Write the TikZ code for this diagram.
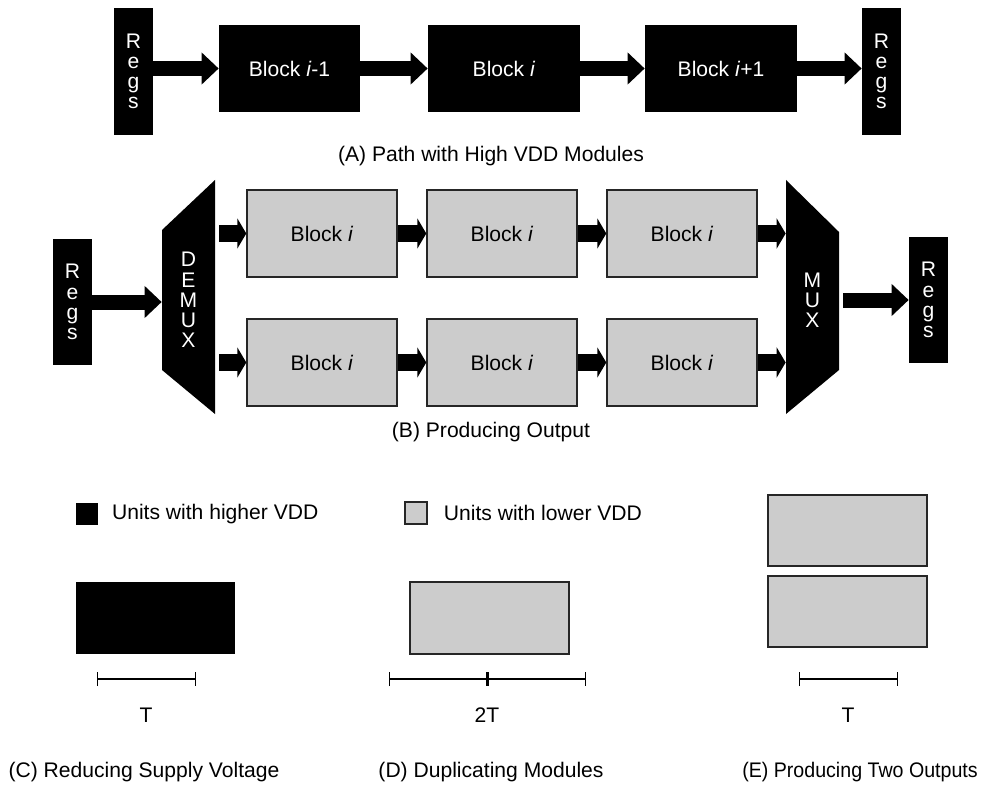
\documentclass[tikz,border=0pt]{standalone}
\usepackage{fontspec}
\setmainfont{Liberation Sans}
\usetikzlibrary{arrows.meta, positioning}

\begin{document}
\begin{tikzpicture}[x=0.2mm, y=-0.2mm,
  every node/.style={font=\fontsize{12pt}{14pt}\selectfont},
  hiblk/.style={fill=black, text=white, inner sep=0pt},
  loblk/.style={draw=black!85, line width=0.8pt, fill=black!20, inner sep=0pt},
  regs/.style={hiblk, minimum width=0.78cm, minimum height=2.54cm, align=center, font=\fontsize{12pt}{11.5pt}\selectfont},
  bigarrow/.style={line width=0.3cm, -{Triangle[length=0.34cm, width=0.62cm]}},
  smallarrow/.style={line width=0.34cm, -{Triangle[length=0.18cm, width=0.6cm]}},
  period/.style={line width=0.6pt, {Bar[width=0.28cm]}-{Bar[width=0.28cm]}}]
  \useasboundingbox (0,0) rectangle (983,785);

  % (A) high VDD path
  \node[regs] (regsA1) at (133.5,71.5) {R\\e\\g\\s};
  \node[hiblk, minimum width=2.82cm, minimum height=1.74cm] (blkA1) at (289.5,68.5) {Block \textit{i}-1};
  \node[hiblk, minimum width=3.04cm, minimum height=1.74cm] (blkA2) at (504,68.5) {Block \textit{i}};
  \node[hiblk, minimum width=3.04cm, minimum height=1.74cm] (blkA3) at (721,68.5) {Block \textit{i}+1};
  \node[regs] (regsA2) at (881.5,71.5) {R\\e\\g\\s};
  \draw[bigarrow] (regsA1.east |- blkA1) -- (blkA1.west);
  \draw[bigarrow] (blkA1) -- (blkA2);
  \draw[bigarrow] (blkA2) -- (blkA3);
  \draw[bigarrow] (blkA3.east) -- (blkA3.east -| regsA2.west);
  \node (capA) at (491,156) {(A) Path with High VDD Modules};

  % (B) duplicated low VDD path
  \node[regs, minimum height=2.52cm] (regsB1) at (72.5,302) {R\\e\\g\\s};
  \fill (162,230) -- (215,180) -- (215,414) -- (162,370) -- cycle;
  \node[regs, fill=none, minimum width=1.06cm, minimum height=4.68cm] (demux) at (188.5,300) {D\\E\\M\\U\\X};
  \fill (786,180) -- (839,232) -- (839,370) -- (786,414) -- cycle;
  \node[regs, fill=none, minimum width=1.06cm, minimum height=4.68cm] (mux) at (812.5,300) {M\\U\\X};
  \node[regs, minimum height=2.52cm] (regsB2) at (928.5,300) {R\\e\\g\\s};
  \foreach \r/\y in {1/233.5, 2/362.5} {
    \node[loblk, minimum width=3cm, minimum height=1.74cm] (blk\r1) at (322,\y) {Block \textit{i}};
    \node[loblk, minimum width=3cm, minimum height=1.74cm] (blk\r2) at (502,\y) {Block \textit{i}};
    \node[loblk, minimum width=3cm, minimum height=1.74cm] (blk\r3) at (682,\y) {Block \textit{i}};
    \draw[smallarrow, shorten <=0.08cm] (blk\r1.west -| demux.east) -- (blk\r1.west);
    \draw[smallarrow] (blk\r1) -- (blk\r2);
    \draw[smallarrow] (blk\r2) -- (blk\r3);
    \draw[smallarrow] (blk\r3.east) -- (blk\r3.east -| mux.west);
  }
  \draw[bigarrow] (regsB1.east) -- (regsB1.east -| demux.west);
  \draw[bigarrow, shorten <=0.08cm] (mux.east |- regsB2.west) -- (regsB2.west);
  \node (capB) at (491,432) {(B) Producing Output};

  % legend
  \node[hiblk, minimum size=0.44cm] (keyhi) at (87,514) {};
  \node[right=0.15cm of keyhi] (keyhitxt) {Units with higher VDD};
  \node[loblk, minimum size=0.44cm] (keylo) at (416,513) {};
  \node[right=0.2cm of keylo] (keylotxt) {Units with lower VDD};

  % (C), (D), (E)
  \node[hiblk, minimum width=3.18cm, minimum height=1.44cm] (unitC) at (155.5,618) {};
  \node[loblk, minimum width=3.18cm, minimum height=1.44cm] (unitD) at (489.5,618) {};
  \node[loblk, minimum width=3.18cm, minimum height=1.42cm] (unitE1) at (847.5,530.5) {};
  \node[loblk, minimum width=3.18cm, minimum height=1.42cm] (unitE2) at (847.5,611.5) {};
  \draw[period] (97,679) -- (196,679);
  \draw[period] (389,679) -- (487.5,679);
  \draw[period] (487.5,679) -- (586,679);
  \draw[period] (799,679) -- (898,679);
  \node (perC) at (146,715) {T};
  \node (perD) at (487,715) {2T};
  \node (perE) at (848,715) {T};
  \node (capC) at (144,772) {(C) Reducing Supply Voltage};
  \node (capD) at (491,772) {(D) Duplicating Modules};
  \node (capE) at (860,772) {\scalebox{0.93}[1]{(E) Producing Two Outputs}};
\end{tikzpicture}
\end{document}
